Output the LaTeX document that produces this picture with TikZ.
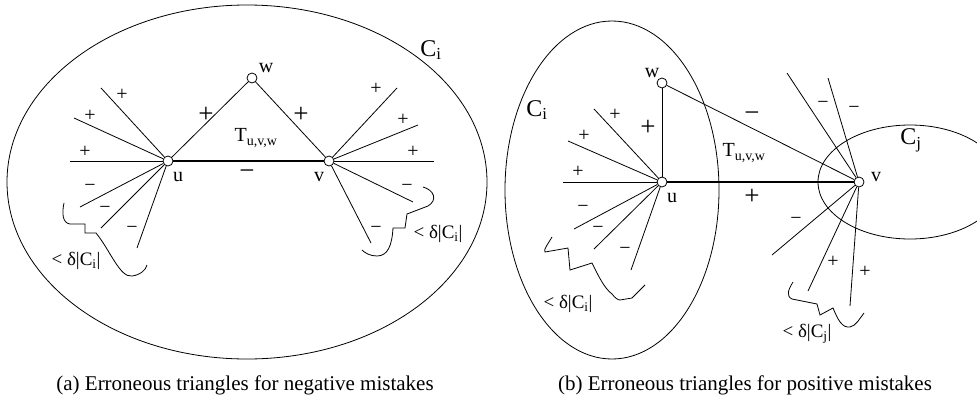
\documentclass[tikz,border=0pt]{standalone}
\usepackage{fontspec}
\setmainfont{Liberation Serif}
\begin{document}
\begin{tikzpicture}[x=1pt,y=-1pt,
  ln/.style={line width=0.8pt},
  heavy/.style={line width=2.2pt},
  vtx/.style={circle,draw,line width=0.8pt,fill=white,inner sep=0pt,minimum size=10pt},
  lbl/.style={inner sep=0pt,font=\fontsize{20}{20}\selectfont},
  sm/.style={inner sep=0pt,font=\fontsize{20}{20}\selectfont},
  lg/.style={inner sep=0pt,font=\fontsize{27}{27}\selectfont},
  cl/.style={inner sep=0pt,font=\fontsize{24}{24}\selectfont},
  bnd/.style={inner sep=0pt,font=\fontsize{19}{19}\selectfont},
  captxt/.style={inner sep=0pt,font=\fontsize{21}{21}\selectfont}]
\useasboundingbox (0,0) rectangle (977,399);
\clip (0,0) rectangle (977,399);

% ---------------- (a) ----------------
\draw[ln] (247,182) ellipse [x radius=240, y radius=177];
\node[cl] (ci1) at (431,50) {C\textsubscript{i}};
\node[vtx] (u1) at (168,161) {};
\node[vtx] (v1) at (329,161) {};
\node[vtx] (w1) at (252,78) {};
\node[lbl] (lu1) at (178,177) {u};
\node[lbl] (lv1) at (319,177) {v};
\node[lbl] (lw1) at (266,68) {w};
\coordinate (a1) at (70,161);
\coordinate (a2) at (74,118);
\coordinate (a3) at (101,88);
\coordinate (a4) at (80,207);
\coordinate (a5) at (101,228);
\coordinate (a6) at (137,248);
\coordinate (b1) at (434,161);
\coordinate (b2) at (418,125);
\coordinate (b3) at (397,88);
\coordinate (b4) at (413,202);
\coordinate (b5) at (371,243);
\draw[heavy] (u1) -- (v1);
\draw[ln] (u1) -- (w1);
\draw[ln] (w1) -- (v1);
\foreach \p in {a1,a2,a3,a4,a5,a6} \draw[ln] (u1) -- (\p);
\foreach \p in {b1,b2,b3,b4,b5} \draw[ln] (v1) -- (\p);
\node[lbl] (t1) at (256,138) {T\textsubscript{u,v,w}};
\node[lg] (s1) at (206,115) {+};
\node[lg] (s2) at (301,115) {+};
\node[lg] (s3) at (247,175) {−};
\node[sm] (s4) at (85,152) {+};
\node[sm] (s5) at (90,116) {+};
\node[sm] (s6) at (122,95) {+};
\node[sm] (s7) at (90,188) {−};
\node[sm] (s8) at (105,210) {−};
\node[sm] (s9) at (132,230) {−};
\node[sm] (s10) at (413,152) {+};
\node[sm] (s11) at (403,120) {+};
\node[sm] (s12) at (376,89) {+};
\node[sm] (s13) at (407,188) {−};
\node[sm] (s14) at (376,230) {−};
\draw[ln] (64,203) .. controls (62,212) and (62,223) .. (70,224) -- (85,224) -- (85,233) -- (96,233)
  .. controls (110,250) and (120,278) .. (132,276) .. controls (140,275) and (146,270) .. (147,265);
\node[bnd] (d1) at (76,261) {< δ|C\textsubscript{i}|};
\draw[ln] (423,187) .. controls (434,190) and (438,200) .. (428,206) -- (407,214) -- (405,228) -- (393,228)
  .. controls (392,245) and (388,256) .. (377,256) .. controls (370,256) and (365,253) .. (362,250);
\node[bnd] (d2) at (438,234) {< δ|C\textsubscript{i}|};
\node[captxt] (capa) at (245,385) {(a) Erroneous triangles for negative mistakes};

% ---------------- (b) ----------------
\draw[ln] (612,190) ellipse [x radius=107, y radius=169];
\draw[ln] (910,182) ellipse [x radius=92, y radius=57];
\node[cl] (ci2) at (537,110) {C\textsubscript{i}};
\node[cl] (cj2) at (911,140) {C\textsubscript{j}};
\node[vtx] (u2) at (662,182) {};
\node[vtx] (v2) at (859,182) {};
\node[vtx] (w2) at (662,83) {};
\node[lbl] (lu2) at (672,198) {u};
\node[lbl] (lv2) at (876,177) {v};
\node[lbl] (lw2) at (652,73) {w};
\coordinate (c1) at (563,182);
\coordinate (c2) at (568,141);
\coordinate (c3) at (594,109);
\coordinate (c4) at (574,229);
\coordinate (c5) at (594,249);
\coordinate (c6) at (631,270);
\coordinate (e1) at (787,73);
\coordinate (e2) at (828,78);
\coordinate (e3) at (772,255);
\coordinate (e4) at (808,291);
\coordinate (e5) at (850,306);
\draw[heavy] (u2) -- (v2);
\draw[ln] (u2) -- (w2);
\draw[ln] (w2) -- (v2);
\foreach \p in {c1,c2,c3,c4,c5,c6} \draw[ln] (u2) -- (\p);
\foreach \p in {e1,e2,e3,e4,e5} \draw[ln] (v2) -- (\p);
\node[lbl] (t2) at (744,153) {T\textsubscript{u,v,w}};
\node[lg] (r1) at (648,128) {+};
\node[lg] (r2) at (752,117) {−};
\node[lg] (r3) at (752,197) {+};
\node[sm] (r4) at (578,172) {+};
\node[sm] (r5) at (584,136) {+};
\node[sm] (r6) at (615,115) {+};
\node[sm] (r7) at (583,209) {−};
\node[sm] (r8) at (598,230) {−};
\node[sm] (r9) at (625,251) {−};
\node[sm] (r10) at (823,105) {−};
\node[sm] (r11) at (854,110) {−};
\node[sm] (r12) at (796,221) {−};
\node[sm] (r13) at (833,262) {+};
\node[sm] (r14) at (865,272) {+};
\draw[ln] (552,237) .. controls (548,244) and (543,250) .. (545,252) -- (568,248) -- (570,270) -- (592,263)
  .. controls (598,275) and (604,288) .. (612,294) .. controls (615,298) and (618,300) .. (620,300)
  -- (632,298) -- (645,285);
\node[bnd] (d3) at (568,304) {< δ|C\textsubscript{i}|};
\draw[ln] (793,282) .. controls (788,290) and (786,296) .. (792,299) -- (817,304) -- (820,315) -- (833,308)
  .. controls (838,320) and (842,328) .. (850,327) .. controls (856,326) and (860,318) .. (864,313);
\node[bnd] (d4) at (807,334) {< δ|C\textsubscript{j}|};
\node[captxt] (capb) at (745,385) {(b) Erroneous triangles for positive mistakes};
\end{tikzpicture}
\end{document}
